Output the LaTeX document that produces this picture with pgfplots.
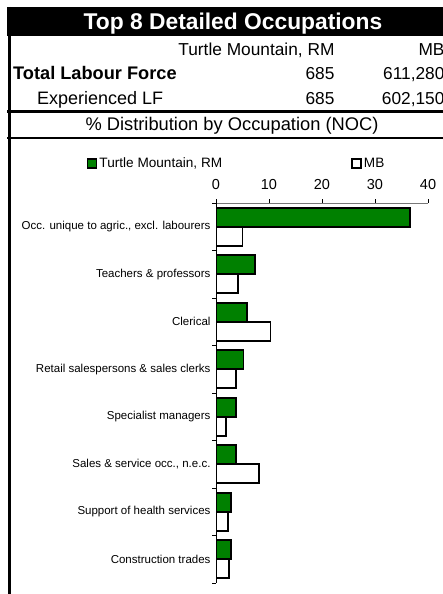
\documentclass[border=0pt]{standalone}
\usepackage{pgfplots}
\pgfplotsset{compat=1.18}
\usepackage{fontspec}
\setmainfont{Liberation Sans}
\definecolor{xlgreen}{RGB}{0,128,0}
\definecolor{axgray}{RGB}{120,120,120}

\begin{document}
\begin{tikzpicture}
% page frame, clipped at the right like the reference
\clip (0pt,0pt) rectangle (443pt,-594pt);
\fill[white] (0pt,0pt) rectangle (443pt,-594pt);

% header table
\fill[black] (7pt,-7pt) rectangle (470pt,-36pt);
\node[text=white, font=\fontsize{22.8}{26}\selectfont\bfseries, anchor=base]
  at (233pt,-29.5pt) {Top 8 Detailed Occupations};
\node[font=\fontsize{17.3}{20}\selectfont, anchor=base east] at (338pt,-56pt) {Turtle Mountain, RM};
\node[font=\fontsize{17.3}{20}\selectfont, anchor=base east] at (448pt,-56pt) {MB};
\node[font=\fontsize{18.2}{20}\selectfont\bfseries, anchor=base west, inner sep=0pt] at (13pt,-80pt) {Total Labour Force};
\node[font=\fontsize{17.3}{20}\selectfont, anchor=base east] at (338pt,-80pt) {685};
\node[font=\fontsize{17.3}{20}\selectfont, anchor=base east] at (448pt,-80pt) {611,280};
\node[font=\fontsize{18}{20}\selectfont, anchor=base west, inner sep=0pt] at (37pt,-104pt) {Experienced LF};
\node[font=\fontsize{17.3}{20}\selectfont, anchor=base east] at (338pt,-104pt) {685};
\node[font=\fontsize{17.3}{20}\selectfont, anchor=base east] at (448pt,-104pt) {602,150};
\draw[line width=3pt] (7pt,-111pt) -- (470pt,-111pt);
\node[font=\fontsize{18.3}{21}\selectfont, anchor=base] at (232pt,-130.5pt) {\% Distribution by Occupation (NOC)};
\draw[line width=2pt] (7pt,-138pt) -- (470pt,-138pt);
\draw[line width=3pt] (9pt,-7pt) -- (9pt,-600pt);

\begin{axis}[
    at={(216pt,-203pt)}, anchor=north west,
    scale only axis,
    width=212pt, height=380pt,
    xbar,
    y dir=reverse,
    xmin=0, xmax=40,
    ymin=-0.5, ymax=7.5,
    axis x line*=top,
    axis y line*=left,
    x axis line style={axgray, line width=1pt},
    y axis line style={black, line width=1pt},
    xtick={0,10,...,40},
    minor xtick={0,10,...,40},
    ytick={0,...,7},
    minor ytick={-0.5,0.5,...,7.5},
    yticklabels={{Occ. unique to agric., excl. labourers},
                 {Teachers \& professors},
                 {Clerical},
                 {Retail salespersons \& sales clerks},
                 {Specialist managers},
                 {Sales \& service occ., n.e.c.},
                 {Support of health services},
                 {Construction trades}},
    major tick length=0pt,
    minor tick length=4pt,
    tick align=outside,
    minor tick style={black, line width=0.8pt},
    /pgf/number format/assume math mode=true,
    xticklabel style={font=\fontsize{14.5}{17}\selectfont, yshift=10pt},
    yticklabel style={font=\fontsize{11.5}{13}\selectfont, xshift=-2pt},
    bar width=0.4,
    legend columns=2,
    legend style={draw=none, fill=none, at={(-0.625,1.105)}, anchor=west,
        font=\fontsize{13.6}{16}\selectfont,
        /tikz/every even column/.append style={column sep=127pt}},
    legend image code/.code={\draw[#1] (0pt,-4.5pt) rectangle (9pt,4.5pt);},
]
\addplot[fill=xlgreen, draw=black, line width=1.8pt, bar shift=-0.2] coordinates {
    (36.6,0) (7.4,1) (5.9,2) (5.2,3) (3.8,4) (3.8,5) (2.9,6) (2.9,7)
};
\addplot[fill=white, draw=black, line width=1.8pt, bar shift=0.2] coordinates {
    (5.0,0) (4.1,1) (10.3,2) (3.8,3) (1.9,4) (8.1,5) (2.3,6) (2.4,7)
};
\legend{{Turtle Mountain, RM}, {MB}}
\end{axis}
\end{tikzpicture}
\end{document}
